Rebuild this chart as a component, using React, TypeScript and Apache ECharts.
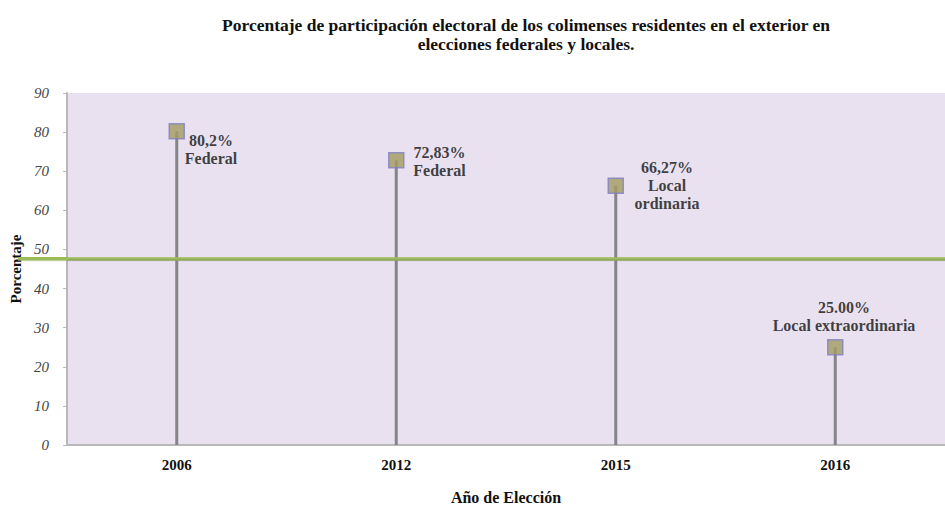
import React, { useEffect, useRef } from "react";
import * as echarts from "echarts";

const years = ["2006", "2012", "2015", "2016"];
const values = [80.2, 72.83, 66.27, 25.0];
const valueLabels = ["80,2%", "72,83%", "66,27%", "25.00%"];
const typeLabels = ["Federal", "Federal", "Local\nordinaria", "Local extraordinaria"];
const referenceLevel = 47.6;
const yTicks = [0, 10, 20, 30, 40, 50, 60, 70, 80, 90];

const labelPos: [number, number][] = [
  [42.5, 8.5],
  [51.5, -8],
  [59.5, -19],
  [17, -40.5],
];

const FONT = "Liberation Serif";

export default function App() {
  const ref = useRef<HTMLDivElement>(null);
  useEffect(() => {
    if (!ref.current) return;
    const chart = echarts.init(ref.current, null, { renderer: "svg" });
    chart.setOption({
      animation: false,
      title: {
        text: "Porcentaje de participación electoral de los colimenses residentes en el exterior en\nelecciones federales y locales.",
        left: 521,
        top: 10,
        textAlign: "center",
        textStyle: {
          fontFamily: FONT,
          fontWeight: "bold",
          fontSize: 17.5,
          lineHeight: 19,
          color: "#111",
        },
      },
      grid: {
        left: 67,
        width: 888,
        top: 93,
        bottom: 52,
        show: true,
        backgroundColor: "#e9e1ef",
        borderWidth: 0,
      },
      xAxis: {
        type: "category",
        data: years,
        boundaryGap: true,
        axisLine: { show: true, lineStyle: { color: "#b8b8b8", width: 2 } },
        axisTick: { show: false },
        axisLabel: {
          fontFamily: FONT,
          fontWeight: "bold",
          fontSize: 15,
          color: "#111",
          margin: 12,
        },
        name: "Año de Elección",
        nameLocation: "middle",
        nameGap: 44,
        nameTextStyle: {
          fontFamily: FONT,
          fontWeight: "bold",
          fontSize: 16,
          color: "#111",
        },
      },
      yAxis: {
        type: "value",
        min: yTicks[0],
        max: yTicks[yTicks.length - 1],
        interval: 10,
        splitLine: { show: false },
        axisLine: { show: true, lineStyle: { color: "#b8b8b8", width: 2 } },
        axisTick: { show: true, length: 4, lineStyle: { color: "#b8b8b8" } },
        axisLabel: {
          fontFamily: FONT,
          fontStyle: "italic",
          fontSize: 15,
          color: "#444",
          margin: 18,
        },
        name: "Porcentaje",
        nameLocation: "middle",
        nameGap: 44,
        nameTextStyle: {
          fontFamily: FONT,
          fontWeight: "bold",
          fontSize: 15,
          color: "#111",
        },
      },
      series: [
        {
          type: "bar",
          data: values,
          barWidth: 3,
          itemStyle: { color: "#858589" },
          z: 2,
          markLine: {
            silent: true,
            symbol: "none",
            label: { show: false },
            lineStyle: {
              color: "#9bbb59",
              width: 3.5,
              type: "solid",
              opacity: 1,
            },
            data: [{ yAxis: referenceLevel }],
            z: 8,
          },
        },
        {
          type: "scatter",
          data: values.map((v, i) => ({
            value: v,
            label: {
              show: true,
              formatter: valueLabels[i] + "\n" + typeLabels[i],
              position: labelPos[i],
              align: "center",
              verticalAlign: "top",
              lineHeight: 18,
            },
          })),
          symbol: "rect",
          symbolSize: 15,
          itemStyle: {
            color: "#a39b62",
            borderColor: "#8080c2",
            borderWidth: 1.5,
          },
          label: {
            fontFamily: FONT,
            fontWeight: "bold",
            fontSize: 16,
            color: "#111",
          },
          z: 5,
        },
      ],
    });
    const y = chart.convertToPixel({ yAxisIndex: 0 }, referenceLevel) as number;
    chart.setOption({
      graphic: [
        {
          type: "line",
          shape: { x1: 18, y1: y + 1.5, x2: 945, y2: y + 1.5 },
          style: { stroke: "rgba(120,120,120,0.25)", lineWidth: 2 },
          z: 9,
          silent: true,
        },
        {
          type: "line",
          shape: { x1: 18, y1: y, x2: 68, y2: y },
          style: { stroke: "#9bbb59", lineWidth: 3.5 },
          z: 10,
          silent: true,
        },
      ],
    });
    return () => chart.dispose();
  }, []);
  return (
    <div
      ref={ref}
      style={{ position: "absolute", left: 0, top: 0, width: 945, height: 510 }}
    />
  );
}
